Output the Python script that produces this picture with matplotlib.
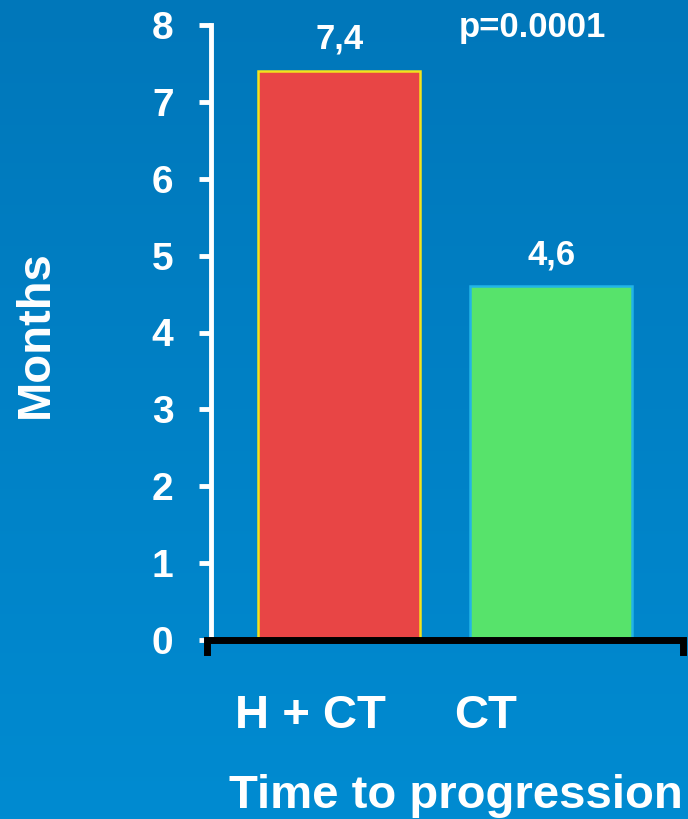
import numpy as np
import matplotlib
matplotlib.use("Agg")
import matplotlib.pyplot as plt
from matplotlib.lines import Line2D
from matplotlib.colors import LinearSegmentedColormap

# Data
categories = ["H + CT", "CT"]
months = [7.4, 4.6]
bar_colors = ["#E84545", "#57E36B"]
edge_colors = ["#F2E21C", "#22B4E6"]
p_label = "p=0.0001"
y_ticks = [0, 1, 2, 3, 4, 5, 6, 7, 8]

plt.rcParams['font.family'] = ['Liberation Sans', 'DejaVu Sans']
plt.rcParams['font.weight'] = 'bold'

W, H = 688, 819
fig = plt.figure(figsize=(W / 100, H / 100), dpi=100)

# Blue gradient background
bg = fig.add_axes([0, 0, 1, 1], zorder=-10)
grad = np.linspace(0, 1, 256).reshape(-1, 1)
cmap = LinearSegmentedColormap.from_list("bg", ["#0077BA", "#008BD1"])
bg.imshow(grad, aspect="auto", cmap=cmap, extent=[0, 1, 0, 1], origin="upper")
bg.set_axis_off()

# Plot area
x0, x1 = 211, 680
y0, y1 = 640, 25
ax = fig.add_axes([x0 / W, 1 - y0 / H, (x1 - x0) / W, (y0 - y1) / H])
ax.patch.set_alpha(0)

pos = np.arange(len(categories))
ax.bar(pos, months, width=0.764, color=bar_colors, edgecolor=edge_colors,
       linewidth=1.8, zorder=3)
ax.set_xlim(-0.604, 1.608)
ax.set_ylim(0, 8)

for xi, v in zip(pos, months):
    ax.annotate(f"{v:.1f}".replace(".", ","), (xi, v), xytext=(0, 16),
                textcoords="offset points", ha="center", va="baseline",
                color="white", fontsize=25, fontweight="bold")

# Axes styling
for s in ["top", "right", "bottom"]:
    ax.spines[s].set_visible(False)
ax.spines["left"].set_color("white")
ax.spines["left"].set_linewidth(3.5)
ax.set_yticks(y_ticks)
ax.set_yticklabels([str(t) for t in y_ticks])
ax.tick_params(axis="y", colors="white", length=9, width=3.5, pad=18,
               labelsize=28)
ax.set_xticks([])

# Bracket-shaped base line
hook = 12 / (y0 - y1)
base = Line2D([-0.008, -0.008, 1.006, 1.006], [-hook, 0, 0, -hook],
              transform=ax.transAxes, color="black", linewidth=5,
              solid_joinstyle="miter", clip_on=False, zorder=5)
ax.add_line(base)

# Category labels beneath the base line
label_x = [310, 486]
for lx, c in zip(label_x, categories):
    fig.text(lx / W, 1 - 728 / H, c, ha="center", va="baseline",
             color="white", fontsize=34, fontweight="bold")

fig.text(36 / W, 1 - 334 / H, "Months", rotation=90, ha="center",
         va="center", color="white", fontsize=34, fontweight="bold")
fig.text(456 / W, 1 - 808 / H, "Time to progression", ha="center",
         va="baseline", color="white", fontsize=34, fontweight="bold")
fig.text(532 / W, 1 - 37 / H, p_label, ha="center", va="baseline",
         color="white", fontsize=25, fontweight="bold")

fig.savefig("out.png", dpi=100)
